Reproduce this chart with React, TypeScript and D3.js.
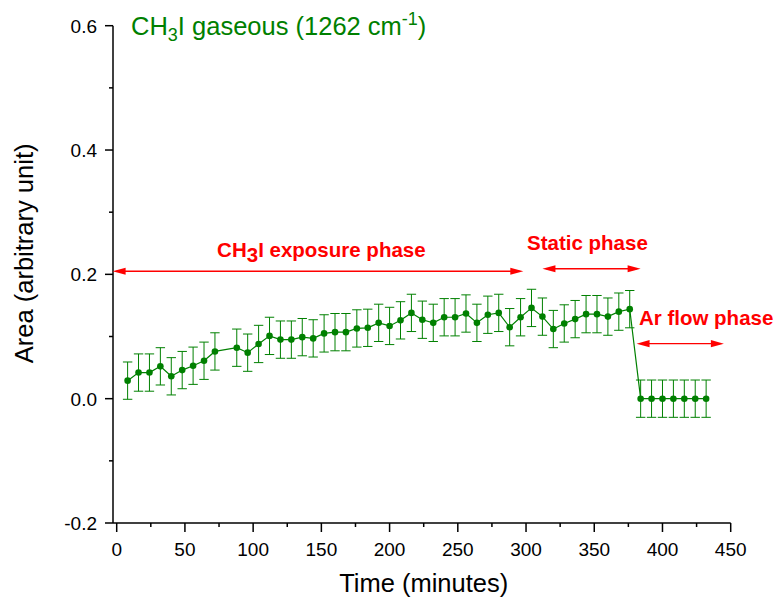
import { FunctionComponent } from "react";
import * as d3 from "d3";

// time points (minutes) and integrated band area
const TIME = [
  8, 16, 24, 32, 40, 48, 56, 64, 72,
  88, 96, 104, 112, 120, 128, 136, 144, 152, 160, 168, 176, 184, 192, 200, 208,
  216, 224, 232, 240, 248, 256, 264, 272, 280, 288, 296, 304, 312, 320, 328, 336,
  344, 352, 360, 368, 376,
  384, 392, 400, 408, 416, 424, 432,
];
const AREA = [
  0.029, 0.042, 0.042, 0.052, 0.036, 0.046, 0.053, 0.061, 0.076,
  0.082, 0.074, 0.088, 0.101, 0.095, 0.095, 0.099, 0.097, 0.105, 0.107, 0.107, 0.113,
  0.114, 0.122, 0.117, 0.126, 0.138, 0.127, 0.122, 0.131, 0.131, 0.137, 0.122, 0.135,
  0.138, 0.115, 0.131, 0.146, 0.132, 0.112, 0.121, 0.128, 0.136, 0.136, 0.132, 0.140,
  0.144,
  0, 0, 0, 0, 0, 0, 0,
];
const AREA_ERR = [
  0.03, 0.03, 0.03, 0.03, 0.03, 0.03, 0.03, 0.03, 0.03,
  0.03, 0.03, 0.03, 0.03, 0.03, 0.03, 0.03, 0.03, 0.03, 0.03, 0.03, 0.03,
  0.03, 0.03, 0.03, 0.03, 0.03, 0.03, 0.03, 0.03, 0.03, 0.03, 0.03, 0.03,
  0.03, 0.03, 0.03, 0.03, 0.03, 0.03, 0.03, 0.03, 0.03, 0.03, 0.03, 0.03,
  0.03,
  0.03, 0.03, 0.03, 0.03, 0.03, 0.03, 0.03,
];

const X_TICKS = [0, 50, 100, 150, 200, 250, 300, 350, 400, 450];
const Y_TICKS = [-0.2, 0.0, 0.2, 0.4, 0.6];

// phase annotations (data units)
const PHASE_NAMES = ["exposure", "static", "arflow"];
const PHASE_FROM = [-3, 312, 381];
const PHASE_TO = [298, 384, 445];
const PHASE_ARROW_Y = [0.205, 0.209, 0.0885];
const PHASE_LABEL_X = [150, 345, 432];
const PHASE_LABEL_Y = [0.228, 0.239, 0.118];

const W = 776;
const H = 599;
const FONT = "'Liberation Sans', Arial, sans-serif";
const GREEN = "#008000";
const RED = "#ff0000";

const App: FunctionComponent = () => {
  const x = d3.scaleLinear().domain([0, 450]).range([116.7, 730.7]);
  const y = d3.scaleLinear().domain([-0.2, 0.6]).range([523, 25.7]);
  const axisX = 113;
  const axisY = y(-0.2);

  const line = d3.line<number>()
    .x((d, i) => x(TIME[i]))
    .y(d => y(d));

  const xMinor = d3.range(25, 450, 50);
  const yMinor = [-0.1, 0.1, 0.3, 0.5];

  const arrow = (i: number) => {
    const x0 = x(PHASE_FROM[i]);
    const x1 = x(PHASE_TO[i]);
    const yy = y(PHASE_ARROW_Y[i]);
    const L = 13, hw = 3.6;
    return (
      <g key={PHASE_NAMES[i]}>
        <line x1={x0 + 4} x2={x1 - 4} y1={yy} y2={yy} stroke={RED} strokeWidth={1.4} />
        <polygon points={`${x0},${yy} ${x0 + L},${yy - hw} ${x0 + L},${yy + hw}`} fill={RED} />
        <polygon points={`${x1},${yy} ${x1 - L},${yy - hw} ${x1 - L},${yy + hw}`} fill={RED} />
      </g>
    );
  };

  return (
    <svg width={W} height={H} style={{ position: "absolute", left: 0, top: 0 }} fontFamily={FONT}>
      <rect width={W} height={H} fill="white" />

      {/* axes */}
      <line x1={axisX} x2={axisX} y1={y(0.6)} y2={axisY} stroke="black" strokeWidth={1.5} />
      <line x1={axisX} x2={x(450)} y1={axisY} y2={axisY} stroke="black" strokeWidth={1.5} />
      {Y_TICKS.map(t => (
        <g key={"yt" + t}>
          <line x1={axisX - 8} x2={axisX} y1={y(t)} y2={y(t)} stroke="black" strokeWidth={1.5} />
          <text x={97} y={y(t)} dy="0.36em" textAnchor="end" fontSize={19}>{d3.format(".1f")(t).replace("−", "-")}</text>
        </g>
      ))}
      {yMinor.map(t => (
        <line key={"ym" + t} x1={axisX - 4} x2={axisX} y1={y(t)} y2={y(t)} stroke="black" strokeWidth={1.5} />
      ))}
      {X_TICKS.map(t => (
        <g key={"xt" + t}>
          <line x1={x(t)} x2={x(t)} y1={axisY} y2={axisY + 9} stroke="black" strokeWidth={1.5} />
          <text x={x(t)} y={556} textAnchor="middle" fontSize={19}>{t}</text>
        </g>
      ))}
      {xMinor.map(t => (
        <line key={"xm" + t} x1={x(t)} x2={x(t)} y1={axisY} y2={axisY + 4} stroke="black" strokeWidth={1.5} />
      ))}

      <text x={x(225)} y={592} textAnchor="middle" fontSize={25.5}>Time (minutes)</text>
      <text transform={`translate(33,${y(0.2) - 21}) rotate(-90)`} textAnchor="middle" fontSize={25.5}>Area (arbitrary unit)</text>

      {/* title */}
      <text x={131} y={35} fontSize={25.5} fill={GREEN}>
        CH<tspan dy={6} fontSize={18}>3</tspan>
        <tspan dy={-6}>I gaseous (1262 cm</tspan>
        <tspan dy={-10} fontSize={18}>-1</tspan>
        <tspan dy={10}>)</tspan>
      </text>

      {/* error bars */}
      {TIME.map((t, i) => {
        const cx = x(t);
        const lo = y(AREA[i] - AREA_ERR[i]);
        const hi = y(AREA[i] + AREA_ERR[i]);
        return (
          <g key={"e" + i} stroke={GREEN} strokeWidth={1}>
            <line x1={cx} x2={cx} y1={lo} y2={hi} />
            <line x1={cx - 4.7} x2={cx + 4.7} y1={lo} y2={lo} />
            <line x1={cx - 4.7} x2={cx + 4.7} y1={hi} y2={hi} />
          </g>
        );
      })}

      <path d={line(AREA) || ""} fill="none" stroke={GREEN} strokeWidth={1.2} />
      {TIME.map((t, i) => (
        <circle key={"p" + i} cx={x(t)} cy={y(AREA[i])} r={3.3} fill={GREEN} />
      ))}

      {/* phases */}
      {PHASE_NAMES.map((_, i) => arrow(i))}
      <text x={x(PHASE_LABEL_X[0])} y={y(PHASE_LABEL_Y[0])} textAnchor="middle" fontSize={20.5} fontWeight="bold" fill={RED}>
        CH<tspan dy={5}>3</tspan><tspan dy={-5}>I exposure phase</tspan>
      </text>
      <text x={x(PHASE_LABEL_X[1])} y={y(PHASE_LABEL_Y[1])} textAnchor="middle" fontSize={20.5} fontWeight="bold" fill={RED}>
        Static phase
      </text>
      <text x={x(PHASE_LABEL_X[2])} y={y(PHASE_LABEL_Y[2])} textAnchor="middle" fontSize={20.5} fontWeight="bold" fill={RED}>
        Ar flow phase
      </text>
    </svg>
  );
};

export default App;
